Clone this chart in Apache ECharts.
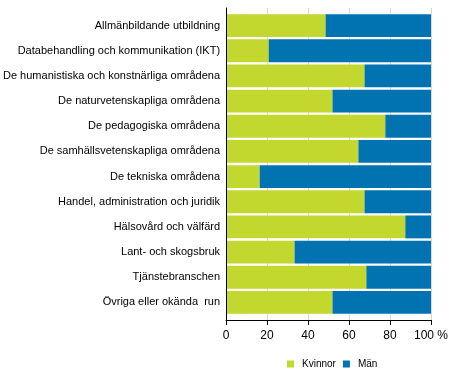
<!DOCTYPE html>
<html><head><meta charset="utf-8">
<script src="https://cdn.jsdelivr.net/npm/echarts@6/dist/echarts.min.js"></script>
<style>html,body{margin:0;padding:0;background:#fff}#c{width:454px;height:378px}</style>
</head><body><div id="c"></div>
<script>
const categories = [
  "Allmänbildande utbildning",
  "Databehandling och kommunikation (IKT)",
  "De humanistiska och konstnärliga områdena",
  "De naturvetenskapliga områdena",
  "De pedagogiska områdena",
  "De samhällsvetenskapliga områdena",
  "De tekniska områdena",
  "Handel, administration och juridik",
  "Hälsovård och välfärd",
  "Lant- och skogsbruk",
  "Tjänstebranschen",
  "Övriga eller okända  run"
];
const kvinnor = [48.3, 20.4, 67.4, 51.7, 77.6, 64.4, 16.0, 67.4, 87.4, 33.1, 68.3, 51.7];
const man     = [51.7, 79.6, 32.6, 48.3, 22.4, 35.6, 84.0, 32.6, 12.6, 66.9, 31.7, 48.3];
const xTicks = [0, 20, 40, 60, 80, 100];
const seriesNames = ["Kvinnor", "Män"];

const font = "Liberation Sans, Arial, sans-serif";
const chart = echarts.init(document.getElementById('c'), null, {renderer: 'canvas'});
chart.setOption({
  animation: false,
  textStyle: {fontFamily: font},
  grid: [
    {left: 226, width: 205, top: 13, height: 302},
    {left: 226, width: 205, top: 8, height: 312}
  ],
  xAxis: [
    {gridIndex: 0, type: 'value', min: 0, max: 100, show: false},
    {gridIndex: 1, type: 'value', min: xTicks[0], max: xTicks[xTicks.length-1], interval: 20,
     axisLine: {show: true, lineStyle: {color: '#000', width: 1}},
     axisTick: {show: true, length: 5, lineStyle: {color: '#000'}},
     axisLabel: {margin: 10, color: '#000', fontSize: 12, fontFamily: font,
       formatter: v => v === 100 ? '100 %' : String(v)},
     splitLine: {show: true, lineStyle: {color: '#d9d9d9', width: 1}}
    }
  ],
  yAxis: [
    {gridIndex: 0, type: 'category', data: categories, inverse: true,
     axisLine: {show: false}, axisTick: {show: false},
     axisLabel: {margin: 7, color: '#000', fontSize: 11, fontFamily: font}},
    {gridIndex: 1, type: 'value', min: 0, max: 1,
     axisLine: {show: true, lineStyle: {color: '#000', width: 1}},
     axisTick: {show: false}, axisLabel: {show: false}, splitLine: {show: false}}
  ],
  legend: {
    data: seriesNames, top: 354, left: 282, icon: 'rect',
    itemWidth: 7, itemHeight: 7, itemGap: 7,
    textStyle: {fontSize: 10, color: '#000', fontFamily: font, padding: [0, 0, 0, 3]}
  },
  series: [
    {name: seriesNames[0], type: 'bar', stack: 't', data: kvinnor, xAxisIndex: 0, yAxisIndex: 0,
     barCategoryGap: '9%', itemStyle: {color: '#c2d82f'}},
    {name: seriesNames[1], type: 'bar', stack: 't', data: man, xAxisIndex: 0, yAxisIndex: 0,
     barCategoryGap: '9%', itemStyle: {color: '#0073b0'}}
  ]
});
</script></body></html>
